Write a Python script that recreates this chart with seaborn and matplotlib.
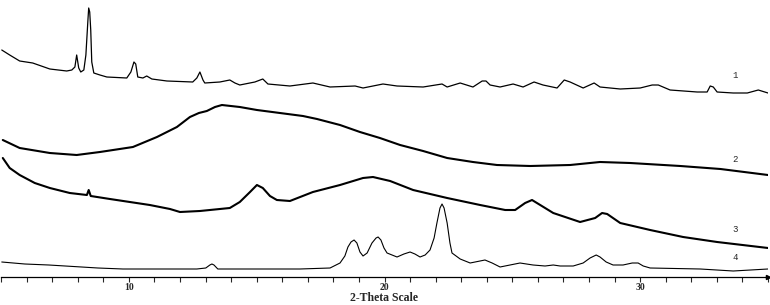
import matplotlib
matplotlib.use("Agg")
import matplotlib.pyplot as plt
from matplotlib.ticker import MultipleLocator
import seaborn as sns
import pandas as pd

# ---- data (2-Theta in degrees, intensity in arbitrary units, curves stacked) ----
theta_1 = [5.03, 5.34, 5.73, 6.24, 6.91, 7.57, 7.77, 7.89, 7.96, 8.04, 8.12, 8.24, 8.32, 8.40, 8.43,
           8.47, 8.51, 8.55, 8.63, 8.87, 9.14, 9.92, 10.08, 10.20, 10.27, 10.35, 10.55, 10.70, 10.90,
           11.49, 12.50, 12.66, 12.78, 12.90, 12.97, 13.56, 13.95, 14.15, 14.34, 14.93, 15.24, 15.44,
           16.30, 17.20, 17.87, 18.85, 19.16, 19.94, 20.49, 21.51, 22.25, 22.45, 22.96, 23.46, 23.82,
           23.97, 24.13, 24.52, 25.03, 25.42, 25.85, 26.20, 26.75, 27.03, 27.26, 27.77, 28.20, 28.43,
           29.22, 30.00, 30.47, 30.71, 31.17, 32.23, 32.62, 32.74, 32.86, 33.01, 33.64, 34.19, 34.62, 35.0]
int_1 = [227, 222, 216, 214, 208, 206, 207, 210, 222, 209, 205, 207, 222, 257, 269,
         265, 247, 215, 204, 202, 200, 199, 205, 215, 213, 200, 199, 201, 198,
         196, 195, 199, 205, 197, 194, 195, 197, 194, 192, 195, 198, 193,
         191, 194, 190, 191, 189, 193, 191, 190, 193, 190, 194, 190, 196,
         196, 192, 190, 193, 190, 195, 192, 189, 197, 195, 189, 194, 190,
         188, 189, 192, 192, 187, 185, 185, 191, 190, 185, 184, 184, 187, 184]

theta_2 = [5.07, 5.73, 6.91, 7.96, 8.87, 10.16, 11.10, 11.88, 12.39, 12.74, 13.05, 13.37, 13.64,
           14.34, 15.01, 15.91, 16.81, 17.36, 18.26, 19.04, 19.82, 20.61, 21.51, 22.45, 23.46,
           24.40, 25.70, 27.26, 28.43, 29.61, 31.57, 33.14, 35.0]
int_2 = [137, 129, 124, 122, 125, 130, 140, 150, 160, 164, 166, 170, 172,
         170, 167, 164, 161, 158, 152, 145, 139, 132, 126, 119, 115,
         112, 111, 112, 115, 114, 111, 108, 102]

theta_3 = [5.07, 5.34, 5.73, 6.32, 6.91, 7.69, 8.36, 8.43, 8.51, 9.26, 10.04, 10.82, 11.61, 12.00,
           12.78, 13.95, 14.34, 14.74, 15.01, 15.24, 15.52, 15.79, 16.30, 17.20, 18.26, 19.16,
           19.55, 20.22, 21.12, 22.45, 23.74, 24.72, 25.11, 25.50, 25.77, 26.09, 26.60, 27.65,
           28.24, 28.51, 28.71, 29.22, 30.39, 31.68, 33.01, 35.0]
int_3 = [119, 109, 102, 94, 89, 84, 82, 87, 81, 78, 75, 72, 68, 65,
         66, 69, 75, 85, 92, 89, 81, 77, 76, 85, 92, 99,
         100, 96, 87, 79, 72, 67, 67, 74, 77, 72, 64, 55,
         59, 64, 63, 54, 47, 40, 35, 29]

theta_4 = [5.03, 5.93, 6.87, 8.79, 9.77, 12.66, 13.01, 13.17, 13.25, 13.33, 13.48, 15.13, 16.69,
           17.87, 18.26, 18.45, 18.57, 18.69, 18.81, 18.92, 19.04, 19.16, 19.32, 19.51, 19.67,
           19.75, 19.86, 19.98, 20.10, 20.49, 20.76, 21.00, 21.19, 21.39, 21.59, 21.78, 21.94,
           22.05, 22.17, 22.25, 22.33, 22.45, 22.56, 22.64, 22.96, 23.35, 23.93, 24.21, 24.52,
           24.91, 25.30, 25.81, 26.28, 26.60, 26.87, 27.38, 27.77, 28.04, 28.28, 28.43, 28.67,
           28.94, 29.33, 29.69, 29.92, 30.12, 30.39, 32.35, 33.64, 35.0]
int_4 = [15, 13, 12, 9, 8, 8, 9, 12, 13, 12, 8, 8, 8,
         9, 14, 21, 30, 35, 37, 34, 25, 21, 24, 34, 39,
         40, 37, 29, 24, 20, 23, 25, 23, 20, 22, 27, 39,
         54, 69, 73, 69, 54, 34, 24, 18, 14, 17, 14, 10,
         12, 14, 12, 11, 12, 11, 11, 14, 19, 22, 20, 15,
         12, 12, 14, 14, 11, 9, 8, 6, 8]

curve_names = ["1", "2", "3", "4"]
label_theta = [33.73, 33.73, 33.73, 33.73]
label_int = [202, 117, 48, 19]
major_ticks = [10, 20, 30]

# ---- figure ----
sns.set_style("white")
plt.rcParams["font.family"] = ["Liberation Serif", "DejaVu Serif"]

fig = plt.figure(figsize=(7.70, 3.05), dpi=100)
ax = fig.add_axes([1 / 770, 28 / 305, 767 / 770, 277 / 305])

series = [(theta_1, int_1, 0.9), (theta_2, int_2, 1.5), (theta_3, int_3, 1.5), (theta_4, int_4, 0.8)]
for (th, it, lw), name in zip(series, curve_names):
    df = pd.DataFrame({"theta": th, "intensity": it})
    sns.lineplot(data=df, x="theta", y="intensity", ax=ax, color="black", lw=lw,
                 estimator=None, sort=False)

for name, tx, ty in zip(curve_names, label_theta, label_int):
    ax.text(tx, ty, name, fontsize=6.5, family="Liberation Mono", ha="center", va="center")

ax.set_xlim(5, 35)
ax.set_ylim(0, 277)
ax.set_xlabel("2-Theta Scale", fontsize=8.5, fontweight="bold", labelpad=0)
ax.set_ylabel("")
ax.set_yticks([])
ax.set_xticks(major_ticks)
ax.set_xticklabels([str(t) for t in major_ticks], fontsize=7, fontweight="bold")
ax.xaxis.set_minor_locator(MultipleLocator(1))
ax.tick_params(axis="x", which="both", direction="out", length=3.5, width=0.8, pad=1, bottom=True)
for s in ["left", "top", "right"]:
    ax.spines[s].set_visible(False)
ax.spines["bottom"].set_color("black")
ax.spines["bottom"].set_linewidth(0.9)
ax.plot([35], [0], marker=">", color="black", markersize=3, clip_on=False)

fig.savefig("out.png", dpi=100, facecolor="white")
